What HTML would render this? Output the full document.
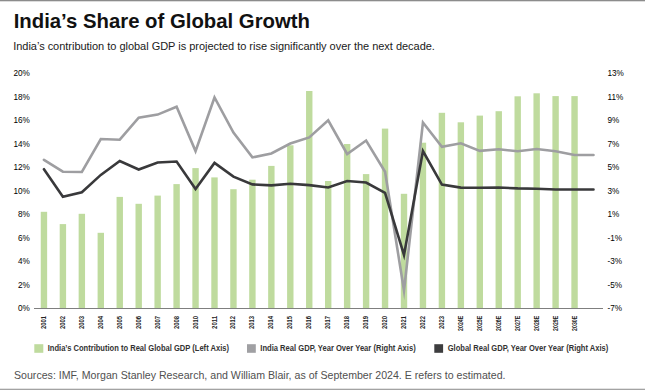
<!DOCTYPE html>
<html><head><meta charset="utf-8"><style>
html,body{margin:0;padding:0;background:#fff;width:645px;height:390px;overflow:hidden;position:relative}
svg text{font-family:"Liberation Sans",sans-serif}
</style></head><body>
<svg width="645" height="390" viewBox="0 0 645 390" style="position:absolute;left:0;top:0">
<rect x="0" y="0" width="645" height="1.3" fill="#8c8c8c"/>
<rect x="0" y="388.7" width="645" height="1.3" fill="#a3a3a3"/>
<text x="13.7" y="27.6" font-size="20.34" font-weight="bold" fill="#111">India’s Share of Global Growth</text>
<text x="13.2" y="50.2" font-size="11" fill="#1a1a1a" letter-spacing="-0.025">India’s contribution to global GDP is projected to rise significantly over the next decade.</text>
<g fill="#bfdb9e"><rect x="40.75" y="211.8" width="6.4" height="96.7"/><rect x="59.70" y="224.1" width="6.4" height="84.4"/><rect x="78.65" y="213.8" width="6.4" height="94.7"/><rect x="97.60" y="232.8" width="6.4" height="75.7"/><rect x="116.55" y="196.9" width="6.4" height="111.6"/><rect x="135.50" y="203.8" width="6.4" height="104.7"/><rect x="154.45" y="195.6" width="6.4" height="112.9"/><rect x="173.40" y="184.1" width="6.4" height="124.4"/><rect x="192.35" y="168.1" width="6.4" height="140.4"/><rect x="211.30" y="177.4" width="6.4" height="131.1"/><rect x="230.25" y="189.2" width="6.4" height="119.3"/><rect x="249.20" y="179.7" width="6.4" height="128.8"/><rect x="268.15" y="165.9" width="6.4" height="142.6"/><rect x="287.10" y="145.3" width="6.4" height="163.2"/><rect x="306.05" y="91.0" width="6.4" height="217.5"/><rect x="325.00" y="181.0" width="6.4" height="127.5"/><rect x="343.95" y="144.0" width="6.4" height="164.5"/><rect x="362.90" y="174.1" width="6.4" height="134.4"/><rect x="381.85" y="128.6" width="6.4" height="179.9"/><rect x="400.80" y="193.8" width="6.4" height="114.7"/><rect x="419.75" y="142.7" width="6.4" height="165.8"/><rect x="438.70" y="112.8" width="6.4" height="195.7"/><rect x="457.65" y="122.3" width="6.4" height="186.2"/><rect x="476.60" y="115.6" width="6.4" height="192.9"/><rect x="495.55" y="111.2" width="6.4" height="197.3"/><rect x="514.50" y="96.3" width="6.4" height="212.2"/><rect x="533.45" y="93.3" width="6.4" height="215.2"/><rect x="552.40" y="96.1" width="6.4" height="212.4"/><rect x="571.35" y="96.1" width="6.4" height="212.4"/></g>
<line x1="34" y1="308.5" x2="603" y2="308.5" stroke="#7f7f7f" stroke-width="1"/>
<polyline points="43.95,159.8 62.90,171.7 81.85,172.0 100.80,139.0 119.75,139.7 138.70,117.7 157.65,114.6 176.60,106.8 195.55,151.1 214.50,97.5 233.45,132.5 252.40,157.4 271.35,153.5 290.30,143.5 309.25,137.4 328.20,120.3 347.15,154.0 366.10,140.5 385.05,171.8 404.00,290.5 422.95,122.5 441.90,146.8 460.85,143.3 479.80,150.9 498.75,149.2 517.70,151.3 536.65,149.0 555.60,151.2 574.55,155.0 593.50,155.0" fill="none" stroke="#9e9ea1" stroke-width="2.6" stroke-linejoin="miter" stroke-miterlimit="10" stroke-linecap="round"/><polyline points="43.95,169.2 62.90,196.8 81.85,192.2 100.80,174.9 119.75,161.0 138.70,169.5 157.65,162.5 176.60,161.5 195.55,189.0 214.50,162.9 233.45,176.6 252.40,184.4 271.35,185.4 290.30,183.7 309.25,185.1 328.20,187.5 347.15,181.0 366.10,182.5 385.05,192.8 404.00,255.0 422.95,151.0 441.90,184.6 460.85,187.6 479.80,187.7 498.75,187.5 517.70,188.4 536.65,188.7 555.60,189.5 574.55,189.5 593.50,189.5" fill="none" stroke="#39393b" stroke-width="2.6" stroke-linejoin="miter" stroke-miterlimit="10" stroke-linecap="round"/>
<g font-size="8.2" fill="#000"><text x="29.8" y="76.4" text-anchor="end">20%</text><text x="29.8" y="99.9" text-anchor="end">18%</text><text x="29.8" y="123.4" text-anchor="end">16%</text><text x="29.8" y="146.9" text-anchor="end">14%</text><text x="29.8" y="170.4" text-anchor="end">12%</text><text x="29.8" y="193.9" text-anchor="end">10%</text><text x="29.8" y="217.4" text-anchor="end">8%</text><text x="29.8" y="240.9" text-anchor="end">6%</text><text x="29.8" y="264.4" text-anchor="end">4%</text><text x="29.8" y="287.9" text-anchor="end">2%</text><text x="29.8" y="311.4" text-anchor="end">0%</text><text x="607.5" y="76.4">13%</text><text x="607.5" y="99.9">11%</text><text x="607.5" y="123.4">9%</text><text x="607.5" y="146.9">7%</text><text x="607.5" y="170.4">5%</text><text x="607.5" y="193.9">3%</text><text x="607.5" y="217.4">1%</text><text x="607.5" y="240.9">-1%</text><text x="607.5" y="264.4">-3%</text><text x="607.5" y="287.9">-5%</text><text x="607.5" y="311.4">-7%</text></g>
<g font-size="7" font-weight="bold" fill="#222"><text transform="translate(43.95,315.9) rotate(-90)" y="2.0" text-anchor="end" textLength="13.0" lengthAdjust="spacingAndGlyphs">2001</text><text transform="translate(62.90,315.9) rotate(-90)" y="2.0" text-anchor="end" textLength="13.0" lengthAdjust="spacingAndGlyphs">2002</text><text transform="translate(81.85,315.9) rotate(-90)" y="2.0" text-anchor="end" textLength="13.0" lengthAdjust="spacingAndGlyphs">2003</text><text transform="translate(100.80,315.9) rotate(-90)" y="2.0" text-anchor="end" textLength="13.0" lengthAdjust="spacingAndGlyphs">2004</text><text transform="translate(119.75,315.9) rotate(-90)" y="2.0" text-anchor="end" textLength="13.0" lengthAdjust="spacingAndGlyphs">2005</text><text transform="translate(138.70,315.9) rotate(-90)" y="2.0" text-anchor="end" textLength="13.0" lengthAdjust="spacingAndGlyphs">2006</text><text transform="translate(157.65,315.9) rotate(-90)" y="2.0" text-anchor="end" textLength="13.0" lengthAdjust="spacingAndGlyphs">2007</text><text transform="translate(176.60,315.9) rotate(-90)" y="2.0" text-anchor="end" textLength="13.0" lengthAdjust="spacingAndGlyphs">2008</text><text transform="translate(195.55,315.9) rotate(-90)" y="2.0" text-anchor="end" textLength="13.0" lengthAdjust="spacingAndGlyphs">2010</text><text transform="translate(214.50,315.9) rotate(-90)" y="2.0" text-anchor="end" textLength="13.0" lengthAdjust="spacingAndGlyphs">2011</text><text transform="translate(233.45,315.9) rotate(-90)" y="2.0" text-anchor="end" textLength="13.0" lengthAdjust="spacingAndGlyphs">2012</text><text transform="translate(252.40,315.9) rotate(-90)" y="2.0" text-anchor="end" textLength="13.0" lengthAdjust="spacingAndGlyphs">2013</text><text transform="translate(271.35,315.9) rotate(-90)" y="2.0" text-anchor="end" textLength="13.0" lengthAdjust="spacingAndGlyphs">2014</text><text transform="translate(290.30,315.9) rotate(-90)" y="2.0" text-anchor="end" textLength="13.0" lengthAdjust="spacingAndGlyphs">2015</text><text transform="translate(309.25,315.9) rotate(-90)" y="2.0" text-anchor="end" textLength="13.0" lengthAdjust="spacingAndGlyphs">2016</text><text transform="translate(328.20,315.9) rotate(-90)" y="2.0" text-anchor="end" textLength="13.0" lengthAdjust="spacingAndGlyphs">2017</text><text transform="translate(347.15,315.9) rotate(-90)" y="2.0" text-anchor="end" textLength="13.0" lengthAdjust="spacingAndGlyphs">2018</text><text transform="translate(366.10,315.9) rotate(-90)" y="2.0" text-anchor="end" textLength="13.0" lengthAdjust="spacingAndGlyphs">2019</text><text transform="translate(385.05,315.9) rotate(-90)" y="2.0" text-anchor="end" textLength="13.0" lengthAdjust="spacingAndGlyphs">2020</text><text transform="translate(404.00,315.9) rotate(-90)" y="2.0" text-anchor="end" textLength="13.0" lengthAdjust="spacingAndGlyphs">2021</text><text transform="translate(422.95,315.9) rotate(-90)" y="2.0" text-anchor="end" textLength="13.0" lengthAdjust="spacingAndGlyphs">2022</text><text transform="translate(441.90,315.9) rotate(-90)" y="2.0" text-anchor="end" textLength="13.0" lengthAdjust="spacingAndGlyphs">2023</text><text transform="translate(460.85,315.9) rotate(-90)" y="2.0" text-anchor="end" textLength="15.0" lengthAdjust="spacingAndGlyphs">2024E</text><text transform="translate(479.80,315.9) rotate(-90)" y="2.0" text-anchor="end" textLength="15.0" lengthAdjust="spacingAndGlyphs">2025E</text><text transform="translate(498.75,315.9) rotate(-90)" y="2.0" text-anchor="end" textLength="15.0" lengthAdjust="spacingAndGlyphs">2026E</text><text transform="translate(517.70,315.9) rotate(-90)" y="2.0" text-anchor="end" textLength="15.0" lengthAdjust="spacingAndGlyphs">2027E</text><text transform="translate(536.65,315.9) rotate(-90)" y="2.0" text-anchor="end" textLength="15.0" lengthAdjust="spacingAndGlyphs">2028E</text><text transform="translate(555.60,315.9) rotate(-90)" y="2.0" text-anchor="end" textLength="15.0" lengthAdjust="spacingAndGlyphs">2029E</text><text transform="translate(574.55,315.9) rotate(-90)" y="2.0" text-anchor="end" textLength="15.0" lengthAdjust="spacingAndGlyphs">2030E</text></g>
<rect x="34.3" y="344.2" width="9" height="8.6" fill="#bfdb9e"/>
<rect x="247" y="344.2" width="8.8" height="8.6" fill="#a0a0a3"/>
<rect x="434.3" y="344.2" width="8.8" height="8.6" fill="#3d3d3f"/>
<g font-size="8.4" font-weight="bold" fill="#333">
<text x="47.7" y="351.4" textLength="181.3" lengthAdjust="spacingAndGlyphs">India’s Contribution to Real Global GDP (Left Axis)</text>
<text x="260.3" y="351.4" textLength="155.4" lengthAdjust="spacingAndGlyphs">India Real GDP, Year Over Year (Right Axis)</text>
<text x="447.7" y="351.4" textLength="160.6" lengthAdjust="spacingAndGlyphs">Global Real GDP, Year Over Year (Right Axis)</text>
</g>
<text x="14.0" y="379.3" font-size="11" fill="#505050" textLength="491.5" lengthAdjust="spacingAndGlyphs">Sources: IMF, Morgan Stanley Research, and William Blair, as of September 2024. E refers to estimated.</text>
</svg>
</body></html>
